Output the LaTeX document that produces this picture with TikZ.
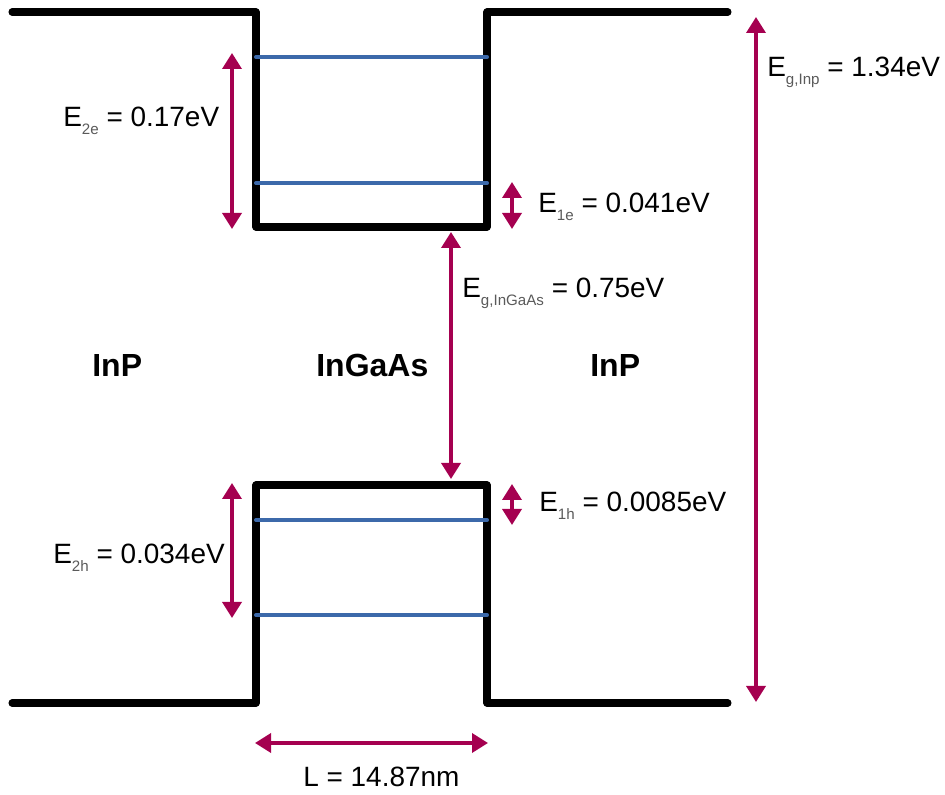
\documentclass[tikz,border=0pt]{standalone}
\usepackage{fontspec}
\setmainfont{Liberation Sans}
\usepackage{xcolor}
\usepackage{tikz}
\usetikzlibrary{arrows.meta, positioning, calc}
\definecolor{dimred}{RGB}{165, 0, 80}
\definecolor{levelblue}{RGB}{60, 105, 170}
\definecolor{subgrey}{RGB}{90, 90, 90}
\newcommand{\esub}[1]{\raisebox{-4pt}{\fontsize{8.6}{9}\selectfont\color{subgrey}#1}}

\begin{document}
\begin{tikzpicture}[
    font=\fontsize{15.9}{18}\selectfont,
    band/.style={line width=4pt, line join=round, line cap=round},
    level/.style={line width=2.3pt, levelblue, line cap=round},
    dimarr/.style={{Triangle[width=3.8mm, length=3.2mm]}-{Triangle[width=3.8mm, length=3.2mm]}, line width=2pt, dimred},
    lbl/.style={anchor=base west, inner sep=0pt},
    matl/.style={anchor=base west, inner sep=0pt, font=\fontsize{18.2}{22}\selectfont\bfseries},
]
\useasboundingbox (0,0) rectangle (18.9,15.9);

% --- Band edge corners ---
\coordinate (cbL) at (0.24,15.66);
\coordinate (cwL) at (5.12,15.66);
\coordinate (cwR) at (9.74,15.66);
\coordinate (cbR) at (14.56,15.66);
\coordinate (vbL) at (0.24,1.84);
\coordinate (vwL) at (5.12,1.84);
\coordinate (vwR) at (9.74,1.84);
\coordinate (vbR) at (14.56,1.84);

% --- Conduction band (well) ---
\draw[band] (cbL) -- (cwL) -- (5.12,11.36) -- (9.74,11.36) -- (cwR) -- (cbR);
% --- Valence band (well) ---
\draw[band] (vbL) -- (vwL) -- (5.12,6.2) -- (9.74,6.2) -- (vwR) -- (vbR);

% --- Confined levels ---
\draw[level] (5.12,14.76) -- (9.74,14.76);
\draw[level] (5.12,12.24) -- (9.74,12.24);
\draw[level] (5.12,5.5) -- (9.74,5.5);
\draw[level] (5.12,3.6) -- (9.74,3.6);

% --- Arrow ends ---
\coordinate (e2t) at (4.64,14.84);
\coordinate (e2b) at (4.64,11.32);
\coordinate (e1t) at (10.24,12.26);
\coordinate (e1b) at (10.24,11.32);
\coordinate (ggt) at (9.02,11.26);
\coordinate (ggb) at (9.02,6.32);
\coordinate (h1t) at (10.24,6.22);
\coordinate (h1b) at (10.24,5.4);
\coordinate (h2t) at (4.64,6.24);
\coordinate (h2b) at (4.64,3.54);
\coordinate (gpt) at (15.12,15.56);
\coordinate (gpb) at (15.12,1.86);
\coordinate (lenL) at (5.1,1.04);
\coordinate (lenR) at (9.76,1.04);

% --- Energy arrows ---
\draw[dimarr] (e2t) -- (e2b);
\draw[dimarr] (e1t) -- (e1b);
\draw[dimarr] (ggt) -- (ggb);
\draw[dimarr] (h1t) -- (h1b);
\draw[dimarr] (h2t) -- (h2b);
\draw[dimarr] (gpt) -- (gpb);
\draw[dimarr] (lenL) -- (lenR);

% --- Labels ---
\node[lbl] (lE2e) at (1.26,13.36) {E\esub{2e} = 0.17eV};
\node[lbl] (lE1e) at (10.76,11.64) {E\esub{1e} = 0.041eV};
\node[lbl] (lEgw) at (9.24,9.94) {E\esub{g,InGaAs} = 0.75eV};
\node[lbl] (lEgb) at (15.34,14.36) {E\esub{g,Inp} = 1.34eV};
\node[lbl] (lE1h) at (10.78,5.66) {E\esub{1h} = 0.0085eV};
\node[lbl] (lE2h) at (1.06,4.62) {E\esub{2h} = 0.034eV};
\node[lbl] (lL) at (6.06,0.16) {L = 14.87nm};

% --- Materials ---
\node[matl] (inpL) at (1.84,8.36) {InP};
\node[matl] (ingaas) at (6.32,8.36) {InGaAs};
\node[matl] (inpR) at (11.8,8.36) {InP};

\end{tikzpicture}
\end{document}
